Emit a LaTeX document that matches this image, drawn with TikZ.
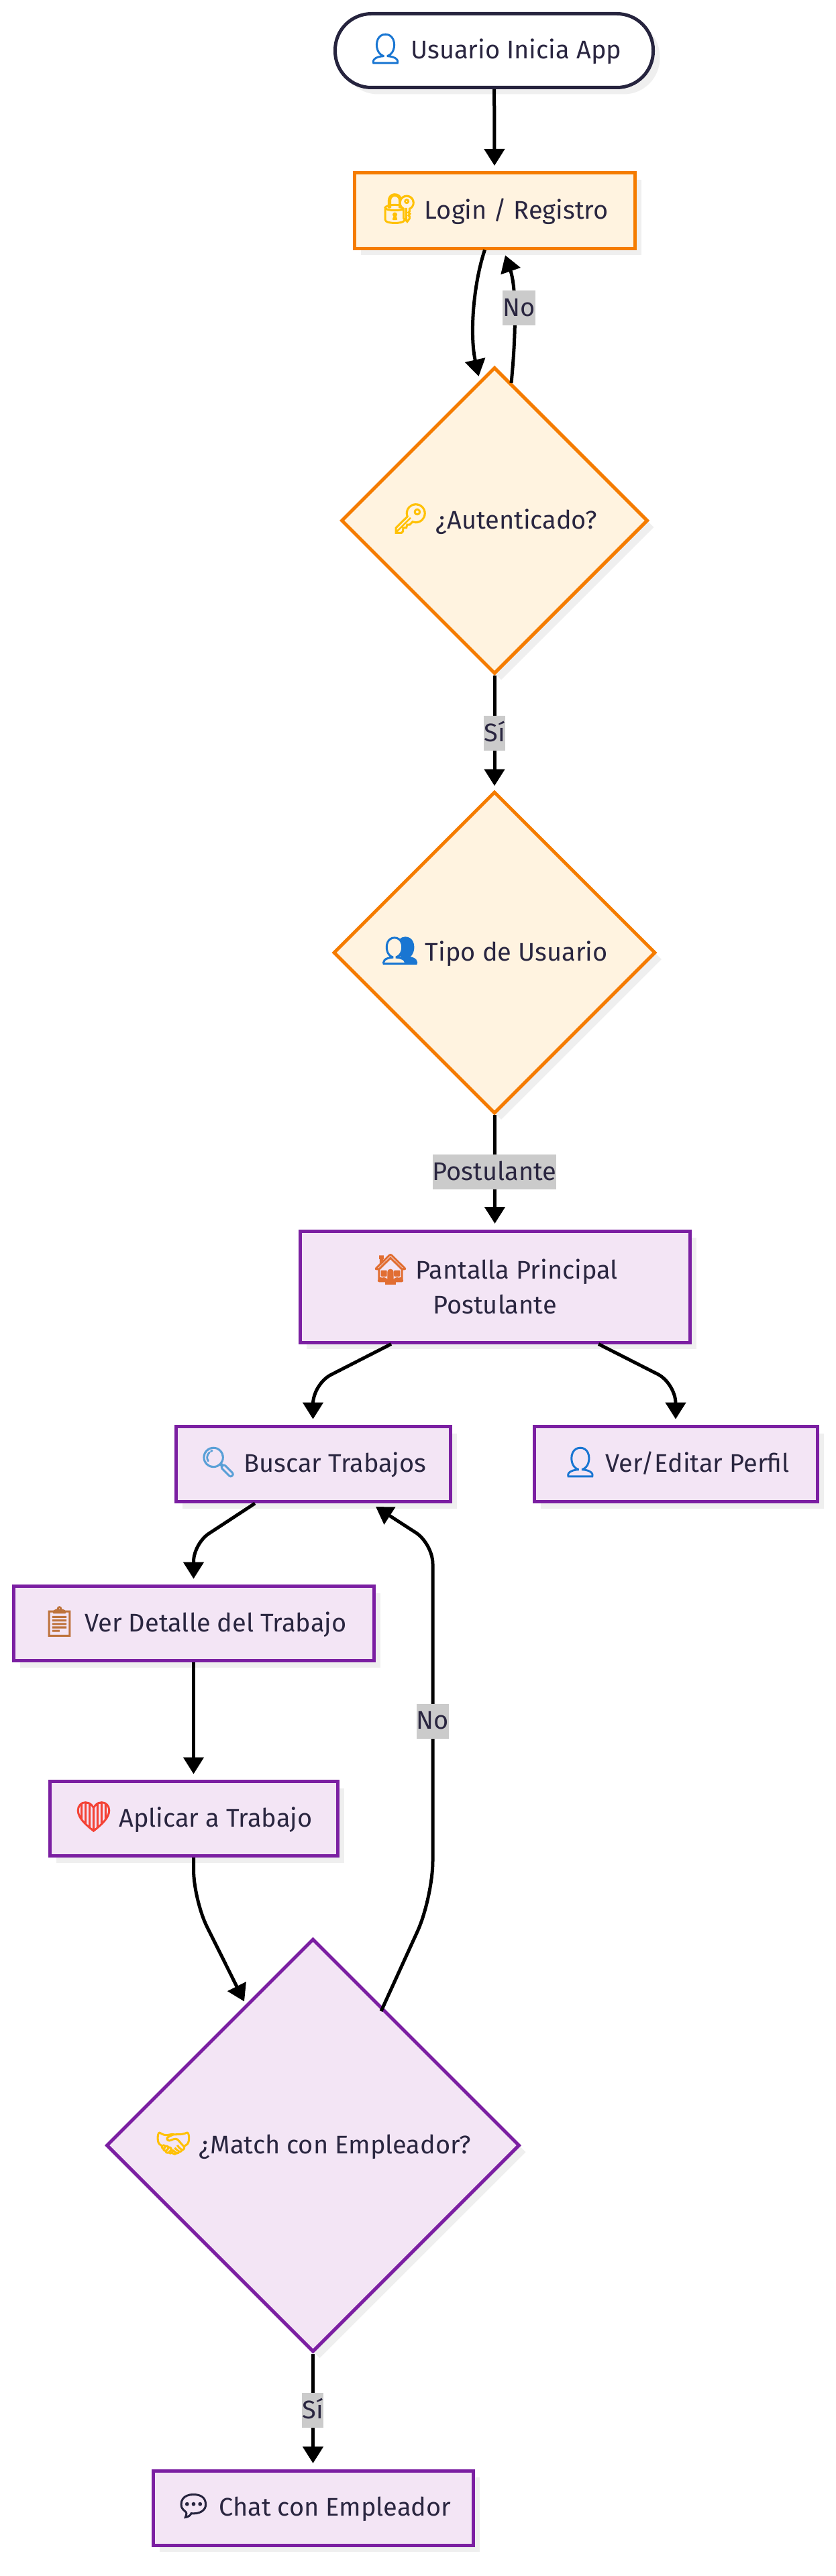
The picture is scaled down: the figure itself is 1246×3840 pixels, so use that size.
\documentclass[tikz,border=0pt]{standalone}
\usepackage{fontspec}
\setmainfont{Fira Sans}
\newfontfamily\emojifont[Scale=1.15,FakeBold=3]{Noto Emoji}
\usetikzlibrary{arrows.meta,shapes.geometric,shadows}
\definecolor{flowink}{RGB}{42,38,64}
\definecolor{flowdark}{RGB}{38,36,62}
\definecolor{floworange}{RGB}{245,124,0}
\definecolor{floworangebg}{RGB}{255,243,224}
\definecolor{flowpurple}{RGB}{123,31,162}
\definecolor{flowpurplebg}{RGB}{243,229,245}
\definecolor{flowshadow}{RGB}{239,239,239}
\definecolor{flowlabel}{RGB}{203,203,203}
\definecolor{emoblue}{RGB}{25,118,210}
\definecolor{emoamber}{RGB}{235,170,20}
\definecolor{emogold}{RGB}{255,193,7}
\definecolor{emohouse}{RGB}{225,110,50}
\definecolor{emolens}{RGB}{90,160,215}
\definecolor{emoclip}{RGB}{190,115,60}
\definecolor{emored}{RGB}{244,67,54}
\newcommand{\emo}[2]{\smash{\emojifont\textcolor{#1}{#2}}}

\begin{document}
\begin{tikzpicture}[
  x=1pt,y=-1pt,
  every node/.style={font=\fontsize{38}{51.5}\selectfont,text=flowink,text height=36pt,text depth=12pt},
  softshadow/.style={drop shadow={shadow xshift=10pt,shadow yshift=-10pt,fill=flowshadow,opacity=1}},
  startnode/.style={draw=flowdark,fill=white,line width=5pt,rounded corners=54pt,
    minimum width=474pt,minimum height=110pt,softshadow},
  authbox/.style={rectangle,draw=floworange,fill=floworangebg,line width=5pt,softshadow},
  authdiamond/.style={diamond,aspect=1,inner sep=0pt,draw=floworange,fill=floworangebg,line width=5pt,softshadow},
  jobbox/.style={rectangle,draw=flowpurple,fill=flowpurplebg,line width=5pt,softshadow},
  jobdiamond/.style={diamond,aspect=1,inner sep=0pt,draw=flowpurple,fill=flowpurplebg,line width=5pt,softshadow},
  edgelabel/.style={fill=flowlabel,inner sep=0pt,minimum height=52pt},
  edge/.style={-{Triangle[length=25pt,width=30pt]},line width=5pt,black}
]
  \useasboundingbox (0,0) rectangle (1246,3840);
  \fill[white] (0,0) rectangle (1246,3840);
  % Inicio y acceso
  \node[startnode] (start) at (736.5,75.5) {\emo{emoblue}{👤} Usuario Inicia App};
  \node[authbox,minimum width=418pt,minimum height=112pt] (login) at (737,314) {\emo{emogold}{🔐} Login / Registro};
  \node[authdiamond,minimum width=457pt,minimum height=457pt] (auth) at (737,776) {\emo{emogold}{🔑} ¿Autenticado?};
  \node[authdiamond,minimum width=480pt,minimum height=480pt] (tipo) at (737,1420) {\emo{emoblue}{👥} Tipo de Usuario};
  % Postulante
  \node[jobbox,align=center,text height=,text depth=,minimum width=581pt,minimum height=166pt] (pantalla) at (737.5,1918) {\emo{emohouse}{🏠} Pantalla Principal\\Postulante};
  \node[jobbox,minimum width=409pt,minimum height=112pt] (buscar) at (466.5,2182.5) {\emo{emolens}{🔍} Buscar Trabajos};
  \node[jobbox,minimum width=422pt,minimum height=112pt] (perfil) at (1007,2182.5) {\emo{emoblue}{👤} Ver/Editar Perfil};
  \node[jobbox,minimum width=537pt,minimum height=111pt] (detalle) at (288.5,2420) {\emo{emoclip}{📋} Ver Detalle del Trabajo};
  \node[jobbox,minimum width=429pt,minimum height=111pt] (aplicar) at (288.5,2711) {\emo{emored}{❤} Aplicar a Trabajo};
  \node[jobdiamond,minimum width=616pt,minimum height=616pt] (match) at (466.5,3198) {\emo{emogold}{🤝} ¿Match con Empleador?};
  \node[jobbox,minimum width=477pt,minimum height=111pt] (chat) at (466.5,3738.5) {\emo{flowdark}{💬} Chat con Empleador};
  % Conectores
  \draw[edge] (start) -- ([yshift=8.5pt]login.north);
  \draw[edge] ([xshift=-14.5pt]login.south) .. controls (705,425) and (700,500) .. ([xshift=-23.5pt,yshift=215pt]auth.center);
  \draw[edge] ([xshift=25pt,yshift=205pt]auth.center) .. controls (769,500) and (770,430) .. ([xshift=16pt,yshift=-8pt]login.south);
  \draw[edge] (auth) -- ([yshift=6pt]tipo.north);
  \draw[edge] (tipo) -- ([yshift=8.5pt]pantalla.north);
  \draw[edge,rounded corners=30pt] ([xshift=-154.5pt]pantalla.south) -- (466.5,2063) -- ([yshift=8.5pt]buscar.north);
  \draw[edge,rounded corners=30pt] ([xshift=154.5pt]pantalla.south) -- (1007,2062) -- ([yshift=8.5pt]perfil.north);
  \draw[edge,rounded corners=27pt] ([xshift=-86.5pt]buscar.south) -- (288.5,2301) -- ([yshift=8.5pt]detalle.north);
  \draw[edge] (detalle) -- ([yshift=8.5pt]aplicar.north);
  \draw[edge,rounded corners=45pt] (aplicar.south) -- (288.5,2832) -- ([xshift=-102.5pt,yshift=214.5pt]match.center);
  \draw[edge,rounded corners=55pt] ([xshift=101.5pt,yshift=200pt]match.center) -- (645,2829) [rounded corners=30pt] -- (645,2301) -- ([xshift=93.5pt,yshift=-5pt]buscar.south);
  \draw[edge] (match) -- ([yshift=8.5pt]chat.north);
  % Etiquetas
  \node[edgelabel] (lblno1) at (773.5,459) {No};
  \node[edgelabel] (lblsi1) at (737,1093) {Sí};
  \node[edgelabel] (lblpost) at (737,1747) {Postulante};
  \node[edgelabel] (lblno2) at (645,2565.5) {No};
  \node[edgelabel] (lblsi2) at (466,3593) {Sí};
\end{tikzpicture}
\end{document}
